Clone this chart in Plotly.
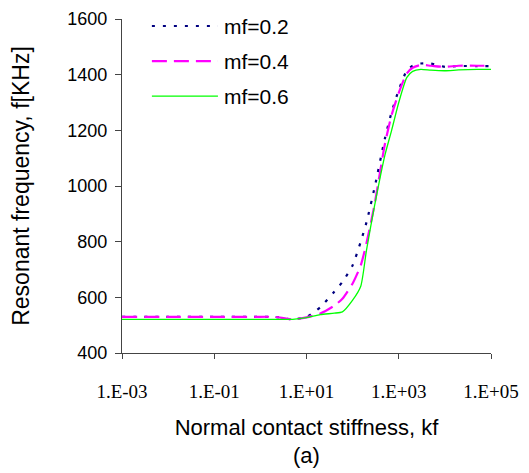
import plotly.graph_objects as go

kf = [1e-3, 1e-2, 1e-1, 1, 2, 5, 10, 20, 40, 60, 100, 150, 200, 300, 500, 700,
      1000, 1500, 2000, 3000, 5000, 10000, 20000, 50000, 1e5]
mf_02 = [530, 530, 530, 530, 530, 521, 530, 565, 620, 655, 715, 800, 870, 995,
         1170, 1265, 1345, 1415, 1432, 1440, 1440, 1428, 1431, 1431, 1431]
mf_04 = [530, 530, 530, 530, 530, 521, 528, 542, 570, 595, 650, 715, 795, 935,
         1150, 1255, 1335, 1405, 1425, 1435, 1432, 1428, 1432, 1432, 1432]
mf_06 = [521, 521, 521, 521, 521, 521, 527, 538, 543, 548, 590, 640, 770, 930,
         1110, 1200, 1300, 1390, 1412, 1419, 1416, 1414, 1417, 1419, 1419]

series = [("mf=0.2", mf_02, "#000080", 2.2, "3px,8px"),
          ("mf=0.4", mf_04, "#FF00FF", 2.2, "15px,7px"),
          ("mf=0.6", mf_06, "#00FF00", 1.3, "solid")]

xtick_vals = [1e-3, 1e-1, 1e1, 1e3, 1e5]
xtick_text = ["1.E-03", "1.E-01", "1.E+01", "1.E+03", "1.E+05"]
ytick_vals = [400, 600, 800, 1000, 1200, 1400, 1600]

fig = go.Figure()
for name, ys, col, w, dash in series:
    fig.add_trace(go.Scatter(x=kf, y=ys, mode="lines", name=name, showlegend=False,
                             line=dict(color=col, width=w, dash=dash, shape="spline", smoothing=0.6)))

# manual legend (line samples + labels)
leg_y = [0.979, 0.874, 0.769]
for (name, ys, col, w, dash), yy in zip(series, leg_y):
    fig.add_shape(type="line", xref="paper", yref="paper", x0=0.081, x1=0.26, y0=yy, y1=yy,
                  line=dict(color=col, width=w, dash=dash))
    fig.add_annotation(xref="paper", yref="paper", x=0.272, y=yy, text=name, showarrow=False,
                       xanchor="left", yanchor="middle",
                       font=dict(family="Arial, Liberation Sans", size=21, color="black"))

# page body has an 8px default margin, so the figure is sized to compensate
fig.update_layout(
    width=521, height=465,
    margin=dict(l=114, r=38, t=11, b=120),
    paper_bgcolor="white", plot_bgcolor="white",
    font=dict(family="Arial, Liberation Sans", color="black"),
    xaxis=dict(type="log", range=[-3, 5], tickvals=xtick_vals, ticktext=xtick_text,
               automargin=False,
               showgrid=False, zeroline=False, showline=True, linecolor="#444", linewidth=1.2,
               ticks="outside", ticklen=5, tickcolor="#444", ticklabelstandoff=16,
               tickfont=dict(family="Times New Roman, Liberation Serif", size=19, color="black"),
               title=dict(text="Normal contact stiffness, kf<br>(a)", standoff=18,
                          font=dict(family="Arial, Liberation Sans", size=22, color="black"))),
    yaxis=dict(range=[400, 1600], tickvals=ytick_vals, automargin=False,
               showgrid=False, zeroline=False, showline=True, linecolor="#444", linewidth=1.2,
               ticks="outside", ticklen=6, tickcolor="#444", ticklabelstandoff=4,
               tickfont=dict(family="Arial, Liberation Sans", size=18, color="black"),
               title=dict(text="Resonant frequency, f[KHz]", standoff=36,
                          font=dict(family="Arial, Liberation Sans", size=23, color="black"))),
)

fig.write_html("out.html")
